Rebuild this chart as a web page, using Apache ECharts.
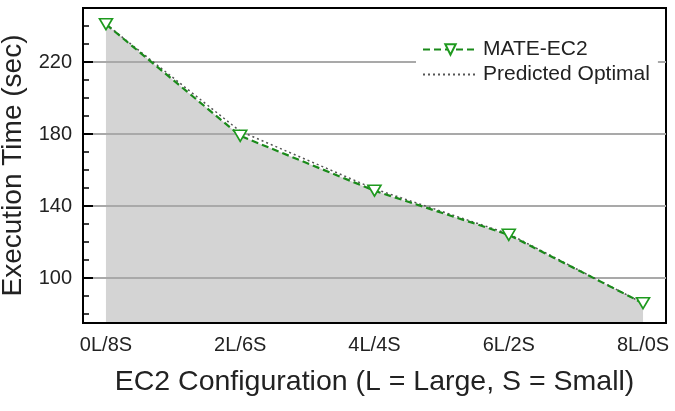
<!DOCTYPE html>
<html>
<head>
<meta charset="utf-8">
<script src="https://cdn.jsdelivr.net/npm/echarts@6/dist/echarts.min.js"></script>
<style>
html,body{margin:0;padding:0;background:#fff;}
#chart{width:675px;height:411px;}
</style>
</head>
<body>
<div id="chart"></div>
<script>
var categories = ['0L/8S', '2L/6S', '4L/4S', '6L/2S', '8L/0S'];
var mateEC2 = [241, 179, 148.5, 124, 86];
var predictedOptimal = [241, 181.5, 149.5, 124.5, 86];
var yMajorTicks = [100, 140, 180, 220];
var yMinorTicks = [80, 90, 100, 110, 120, 130, 140, 150, 160, 170, 180, 190, 200, 210, 220, 230, 240];
var xTickValues = [0, 1, 2, 3, 4];

var FONT = '"Liberation Sans", Arial, Helvetica, sans-serif';
var GREEN = '#1e9a1e';

function pts(arr) { return arr.map(function (v, i) { return [i, v]; }); }

var chart = echarts.init(document.getElementById('chart'), null, {renderer: 'canvas'});
chart.setOption({
  animation: false,
  backgroundColor: '#fff',
  textStyle: {fontFamily: FONT},
  grid: {
    left: 83, right: 9, top: 8, bottom: 88,
    containLabel: false,
    outerBoundsMode: 'none',
    show: true, borderColor: '#000', borderWidth: 2, backgroundColor: 'transparent'
  },
  legend: {
    orient: 'vertical',
    left: 416, top: 37,
    padding: [2, 8, 6, 6],
    backgroundColor: '#fff',
    itemWidth: 55, itemHeight: 13, itemGap: 4, itemTextGap: 12,
    textStyle: {fontSize: 21, color: '#222', fontFamily: FONT},
    data: [{name: 'MATE-EC2'}, {name: 'Predicted Optimal', itemStyle: {opacity: 0}}]
  },
  xAxis: {
    type: 'value',
    min: -0.171, max: 4.171,
    z: 5,
    name: 'EC2 Configuration (L = Large, S = Small)',
    nameLocation: 'middle', nameGap: 45,
    nameTextStyle: {fontSize: 28.5, color: '#222', fontFamily: FONT},
    axisLine: {show: true, onZero: false, lineStyle: {color: '#000', width: 2}},
    axisTick: {show: false},
    splitLine: {show: false},
    axisLabel: {
      customValues: xTickValues,
      fontSize: 20, color: '#222', margin: 12, fontFamily: FONT,
      formatter: function (v) { return categories[Math.round(v)]; }
    }
  },
  yAxis: [{
    type: 'value',
    min: 75, max: 250,
    z: 1.5,
    name: 'Execution Time (sec)',
    nameLocation: 'middle', nameGap: 54,
    nameTextStyle: {fontSize: 28, color: '#222', fontFamily: FONT},
    axisLine: {show: true, onZero: false, lineStyle: {color: '#000', width: 2}},
    axisTick: {show: true, inside: true, length: 10, customValues: yMajorTicks, lineStyle: {color: '#000', width: 2}},
    axisLabel: {customValues: yMajorTicks, fontSize: 20, color: '#222', margin: 11, fontFamily: FONT},
    splitLine: {show: true, lineStyle: {color: '#a9a9a9', width: 2}}
  }, {
    type: 'value',
    min: 75, max: 250,
    position: 'left',
    z: 5,
    axisLine: {show: false, onZero: false},
    axisTick: {show: true, inside: true, length: 6, customValues: yMinorTicks, lineStyle: {color: '#000', width: 1.5}},
    axisLabel: {show: false},
    splitLine: {show: false}
  }],
  series: [{
    name: 'fill',
    type: 'line',
    z: 1,
    data: pts(mateEC2),
    symbol: 'none',
    lineStyle: {width: 0, opacity: 0},
    areaStyle: {color: '#d4d4d4', opacity: 1, origin: 'start'},
    silent: true,
    legendHoverLink: false
  }, {
    name: 'Predicted Optimal',
    type: 'line',
    z: 3,
    data: pts(predictedOptimal),
    symbol: 'none',
    itemStyle: {color: '#555'},
    lineStyle: {color: '#555', width: 1.5, type: [2, 3]}
  }, {
    name: 'MATE-EC2',
    type: 'line',
    z: 4,
    data: pts(mateEC2),
    symbol: 'triangle',
    symbolRotate: 180,
    symbolSize: [13, 11],
    itemStyle: {color: '#fff', borderColor: GREEN, borderWidth: 1.6},
    lineStyle: {color: '#1a8a1a', width: 2.2, type: [7, 4]}
  }]
});
</script>
</body>
</html>
